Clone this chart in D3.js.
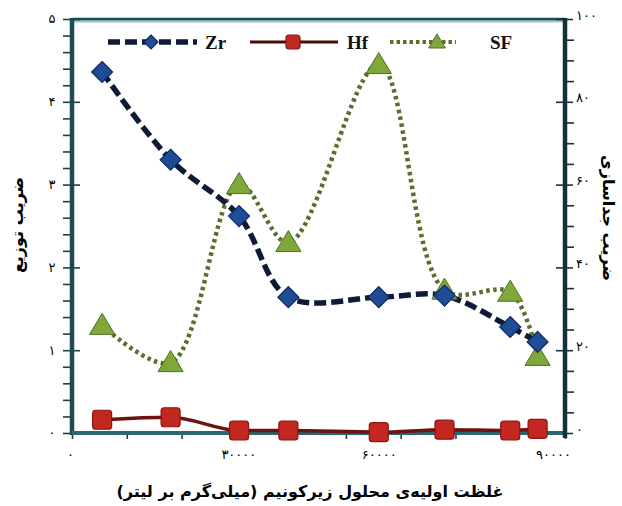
<!DOCTYPE html>
<html><head><meta charset="utf-8">
<script src="https://cdn.jsdelivr.net/npm/d3@7"></script>
<style>body{margin:0;background:#fff}svg{display:block}</style>
</head><body>
<script>
const xValues = [5500, 18000, 30500, 39500, 56000, 68000, 80000, 85000];
const zrValues = [4.36, 3.30, 2.62, 1.64, 1.64, 1.66, 1.28, 1.10];
const hfValues = [0.16, 0.19, 0.03, 0.03, 0.01, 0.04, 0.03, 0.05];
const sfValues = [26, 17, 60, 46, 89, 34.5, 34, 18.5];
const xTickLabels = ["۰", "۳۰۰۰۰", "۶۰۰۰۰", "۹۰۰۰۰"];
const leftTickLabels = ["۰","۱","۲","۳","۴","۵"];
const rightTickLabels = ["۰","۲۰","۴۰","۶۰","۸۰","۱۰۰"];
const seriesNames = ["Zr","Hf","SF"];
const xTitle = "غلظت اولیه‌ی محلول زیرکونیم (میلی‌گرم بر لیتر)";
const yLeftTitle = "ضریب توزیع";
const yRightTitle = "ضریب جداسازی";

const W = 622, H = 506;
const m = {l:72, r:57, t:19, b:73};
const svg = d3.select("body").append("svg").attr("width", W).attr("height", H);
const x = d3.scaleLinear().domain([0, 90000]).range([m.l, W - m.r]);
const yL = d3.scaleLinear().domain([0, 5]).range([H - m.b, m.t]);
const yR = d3.scaleLinear().domain([0, 100]).range([H - m.b, m.t]);

// frame top
svg.append("line").attr("x1", x(0)).attr("x2", x(90000)).attr("y1", m.t+2).attr("y2", m.t+2)
  .attr("stroke", "#9cc7d0").attr("stroke-width", 3);
svg.append("line").attr("x1", x(0)).attr("x2", x(90000)).attr("y1", m.t).attr("y2", m.t)
  .attr("stroke", "#1d4e55").attr("stroke-width", 2.5);

const tickFont = "'DejaVu Sans', sans-serif";
const tickSize = 13;
// left axis
const gL = svg.append("g").attr("transform", `translate(${m.l},0)`);
gL.call(d3.axisLeft(yL).tickValues(d3.range(0, 5.01, 0.2)).tickSize(9).tickFormat(""));
gL.selectAll(".tick line").attr("stroke", "#1d3f45").attr("stroke-width", 1.6);
gL.selectAll(".tick").filter(d => Math.abs(d - Math.round(d)) < 1e-6).select("line").attr("x2", 8).attr("x1", -9);
gL.selectAll(".tick").filter(d => Math.abs(d - Math.round(d)) < 1e-6).append("text")
  .attr("x", -20).attr("dy", "0.3em").attr("text-anchor", "middle")
  .attr("font-family", tickFont).attr("font-size", tickSize).attr("fill", "#000")
  .text(d => leftTickLabels[Math.round(d)]);
gL.select(".domain").remove();

// right axis
const gR = svg.append("g").attr("transform", `translate(${W - m.r},0)`);
gR.call(d3.axisRight(yR).tickValues(d3.range(0, 101, 5)).tickSize(9).tickFormat(""));
gR.selectAll(".tick line").attr("stroke", "#12333d").attr("stroke-width", 1.6);
gR.selectAll(".tick").filter(d => d % 20 === 0).select("line").attr("x1", -9).attr("x2", 8);
gR.selectAll(".tick").filter(d => d % 20 === 0).append("text")
  .attr("x", 11).attr("dy", "0.0em").attr("text-anchor", "start")
  .attr("font-family", tickFont).attr("font-size", tickSize).attr("fill", "#000")
  .text(d => rightTickLabels[d/20]);
gR.select(".domain").remove();

// bottom axis
const gB = svg.append("g").attr("transform", `translate(0,${H - m.b})`);
gB.call(d3.axisBottom(x).tickValues(d3.range(0, 90001, 10000)).tickSize(6).tickFormat(""));
gB.selectAll(".tick line").attr("stroke", "#1d3f45").attr("stroke-width", 1.6);
gB.select(".domain").remove();
const labelShift = {0:-2, 30000:2, 60000:-22, 90000:-12};
gB.selectAll(".tick").filter(d => d % 30000 === 0).append("text")
  .attr("x", d => labelShift[d]).attr("y", 26).attr("text-anchor", "middle")
  .attr("font-family", tickFont).attr("font-size", tickSize).attr("fill", "#000")
  .text(d => xTickLabels[d/30000]);

// axis lines
svg.append("line").attr("x1", m.l).attr("x2", m.l).attr("y1", m.t - 1).attr("y2", H - m.b + 2)
  .attr("stroke", "#1c4c52").attr("stroke-width", 4.5);
svg.append("line").attr("x1", m.l).attr("x2", W - m.r).attr("y1", H - m.b).attr("y2", H - m.b)
  .attr("stroke", "#2a6770").attr("stroke-width", 4);
svg.append("line").attr("x1", W - m.r).attr("x2", W - m.r).attr("y1", m.t - 1).attr("y2", H - m.b + 5)
  .attr("stroke", "#12313b").attr("stroke-width", 4.5);

// series
const ptsZr = xValues.map((v,i) => [x(v), yL(zrValues[i])]);
const ptsHf = xValues.map((v,i) => [x(v), yL(hfValues[i])]);
const ptsSf = xValues.map((v,i) => [x(v), yR(sfValues[i])]);
const curve = d3.line().curve(d3.curveCatmullRom.alpha(0.5));
const lin = d3.line().curve(d3.curveMonotoneX);

svg.append("path").attr("d", lin(ptsHf)).attr("fill", "none").attr("stroke", "#6e1210").attr("stroke-width", 3.5);
svg.append("path").attr("d", curve(ptsSf)).attr("fill", "none").attr("stroke", "#5c6e2c").attr("stroke-width", 4.5)
  .attr("stroke-dasharray", "3.5,3.5");
svg.append("path").attr("d", curve(ptsZr)).attr("fill", "none").attr("stroke", "#0f1a36").attr("stroke-width", 5.5)
  .attr("stroke-dasharray", "12,5");

const diamond = (cx, cy, s) => `M${cx},${cy-s}L${cx+s},${cy}L${cx},${cy+s}L${cx-s},${cy}Z`;
const tri = (cx, cy, s) => `M${cx},${cy-s}L${cx+s*1.05},${cy+s*0.75}L${cx-s*1.05},${cy+s*0.75}Z`;

function drawHf(g, pts, s) {
  g.selectAll(null).data(pts).enter().append("rect")
    .attr("x", d => d[0]-s).attr("y", d => d[1]-s).attr("width", 2*s).attr("height", 2*s)
    .attr("rx", 3).attr("fill", "#c2281f").attr("stroke", "#8a1512").attr("stroke-width", 1.2);
}
function drawZr(g, pts, s) {
  g.selectAll(null).data(pts).enter().append("path")
    .attr("d", d => diamond(d[0], d[1], s)).attr("fill", "#1f4c96").attr("stroke", "#0e2a5c").attr("stroke-width", 1.2);
}
function drawSf(g, pts, s) {
  g.selectAll(null).data(pts).enter().append("path")
    .attr("d", d => tri(d[0], d[1], s)).attr("fill", "#7ea83a").attr("stroke", "#51701f").attr("stroke-width", 1);
}
const gm = svg.append("g");
drawHf(gm, ptsHf, 9.5);
drawSf(gm, ptsSf, 12);
drawZr(gm, ptsZr, 10.5);

// legend
const lg = svg.append("g");
const ly = 42;
lg.append("line").attr("x1", 108).attr("x2", 197).attr("y1", ly).attr("y2", ly).attr("stroke", "#0f1a36")
  .attr("stroke-width", 5.5).attr("stroke-dasharray", "12,5");
drawZr(lg, [[151, ly]], 7);
lg.append("line").attr("x1", 250).attr("x2", 338).attr("y1", ly).attr("y2", ly).attr("stroke", "#4a0c0b").attr("stroke-width", 3);
drawHf(lg, [[293, ly]], 7);
lg.append("line").attr("x1", 390).attr("x2", 456).attr("y1", ly).attr("y2", ly).attr("stroke", "#5c6e2c")
  .attr("stroke-width", 4).attr("stroke-dasharray", "3.5,3");
drawSf(lg, [[437, ly]], 8);
const legX = [205, 347, 490];
lg.selectAll(null).data(seriesNames).enter().append("text")
  .attr("x", (d,i) => legX[i]).attr("y", ly).attr("dy", "0.35em")
  .attr("font-family", "'Liberation Serif', serif").attr("font-weight", "bold").attr("font-size", 19)
  .attr("fill", "#111").text(d => d);

// titles
const titleFont = "'DejaVu Sans', 'Noto Sans', sans-serif";
svg.append("text").attr("x", 310).attr("y", 497).attr("text-anchor", "middle").attr("direction", "rtl")
  .attr("font-family", titleFont).attr("font-weight", "bold").attr("font-size", 16).text(xTitle);
svg.append("text").attr("transform", "translate(17,225) rotate(-90)").attr("text-anchor", "middle").attr("dy", "0.35em")
  .attr("direction", "rtl").attr("font-family", titleFont).attr("font-weight", "bold").attr("font-size", 16).text(yLeftTitle);
svg.append("text").attr("transform", "translate(609,218) rotate(90)").attr("text-anchor", "middle").attr("dy", "0.35em")
  .attr("direction", "rtl").attr("font-family", titleFont).attr("font-weight", "bold").attr("font-size", 16).text(yRightTitle);
</script>
</body></html>
